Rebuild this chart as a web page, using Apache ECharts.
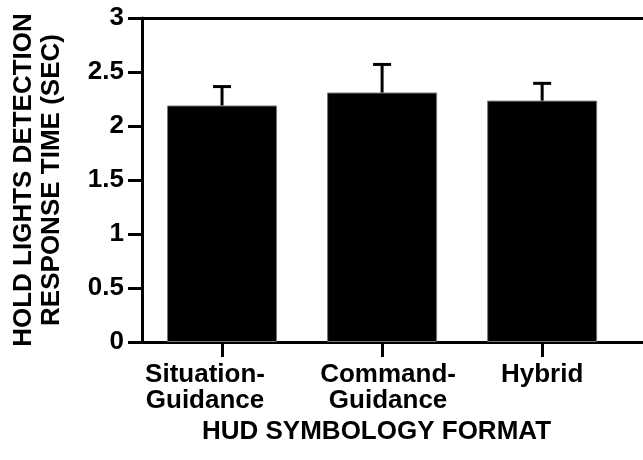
<!DOCTYPE html>
<html>
<head>
<meta charset="utf-8">
<script src="https://cdn.jsdelivr.net/npm/echarts@6/dist/echarts.min.js"></script>
<style>
  html, body { margin: 0; padding: 0; background: #fff; }
  #chart { width: 643px; height: 460px; }
</style>
</head>
<body>
<div id="chart"></div>
<script>
// HUD format groups
const categories = ['Situation-\nGuidance', 'Command-\nGuidance', 'Hybrid'];
// mean detection time (sec)
const meanTimes = [2.19, 2.31, 2.235];
// top of error bar (sec)
const errorTops = [2.365, 2.57, 2.395];
const yTicks = [0, 0.5, 1, 1.5, 2, 2.5, 3];

const font = "'Liberation Sans', Arial, Helvetica, sans-serif";
const positions = categories.map((c, i) => i);

// small nudge of each category label, like the original layout
const labelRich = {
  c0: { fontFamily: font, fontWeight: 'bold', fontSize: 26, lineHeight: 26, color: '#000', padding: [0, 34, 0, 0] },
  c1: { fontFamily: font, fontWeight: 'bold', fontSize: 26, lineHeight: 26, color: '#000', padding: [0, 0, 0, 12] },
  c2: { fontFamily: font, fontWeight: 'bold', fontSize: 26, lineHeight: 26, color: '#000' }
};

const chart = echarts.init(document.getElementById('chart'));

chart.setOption({
  animation: false,
  backgroundColor: '#fff',
  grid: { left: 142, right: 0, top: 18, bottom: 118 },
  xAxis: [
    {
      type: 'value',
      min: -0.5,
      max: 2.63,
      position: 'bottom',
      splitLine: { show: false },
      axisLine: { show: true, onZero: false, lineStyle: { color: '#000', width: 3 } },
      axisTick: {
        show: true,
        customValues: positions,
        length: 15,
        lineStyle: { color: '#000', width: 3 }
      },
      axisLabel: {
        customValues: positions,
        margin: 20,
        formatter: (v) => {
          const i = Math.round(v);
          return categories[i].split('\n').map(s => '{c' + i + '|' + s + '}').join('\n');
        },
        rich: labelRich
      },
      name: 'HUD SYMBOLOGY FORMAT',
      nameLocation: 'middle',
      nameGap: 73,
      nameTextStyle: { fontFamily: font, fontWeight: 'bold', fontSize: 26, color: '#000', padding: [0, 32, 0, 0] }
    },
    {
      type: 'value',
      min: -0.5,
      max: 2.63,
      position: 'top',
      splitLine: { show: false },
      axisLine: { show: true, onZero: false, lineStyle: { color: '#000', width: 3 } },
      axisTick: { show: false },
      axisLabel: { show: false }
    }
  ],
  yAxis: {
    type: 'value',
    min: 0,
    max: 3,
    interval: 0.5,
    position: 'left',
    splitLine: { show: false },
    axisLine: { show: true, onZero: false, lineStyle: { color: '#000', width: 3 } },
    axisTick: { show: true, length: 14, lineStyle: { color: '#000', width: 3 } },
    axisLabel: {
      margin: 18,
      fontFamily: font,
      fontWeight: 'bold',
      fontSize: 26,
      color: '#000',
      formatter: (v) => String(v)
    },
    name: 'HOLD LIGHTS DETECTION\nRESPONSE TIME (SEC)',
    nameLocation: 'middle',
    nameGap: 76,
    nameTextStyle: { fontFamily: font, fontWeight: 'bold', fontSize: 26, lineHeight: 28, color: '#000' }
  },
  series: [
    {
      type: 'bar',
      barWidth: 110,
      data: meanTimes.map((v, i) => [i, v]),
      itemStyle: { color: '#000', borderColor: '#777', borderWidth: 1 },
      z: 2
    },
    {
      type: 'custom',
      data: meanTimes.map((v, i) => [i, v, errorTops[i]]),
      z: 3,
      renderItem: (params, api) => {
        const base = api.coord([api.value(0), api.value(1)]);
        const top = api.coord([api.value(0), api.value(2)]);
        const half = 9;
        const style = { stroke: '#000', lineWidth: 3 };
        return {
          type: 'group',
          children: [
            { type: 'line', shape: { x1: base[0], y1: base[1], x2: top[0], y2: top[1] }, style },
            { type: 'line', shape: { x1: top[0] - half, y1: top[1], x2: top[0] + half, y2: top[1] }, style }
          ]
        };
      }
    }
  ]
});
</script>
</body>
</html>
